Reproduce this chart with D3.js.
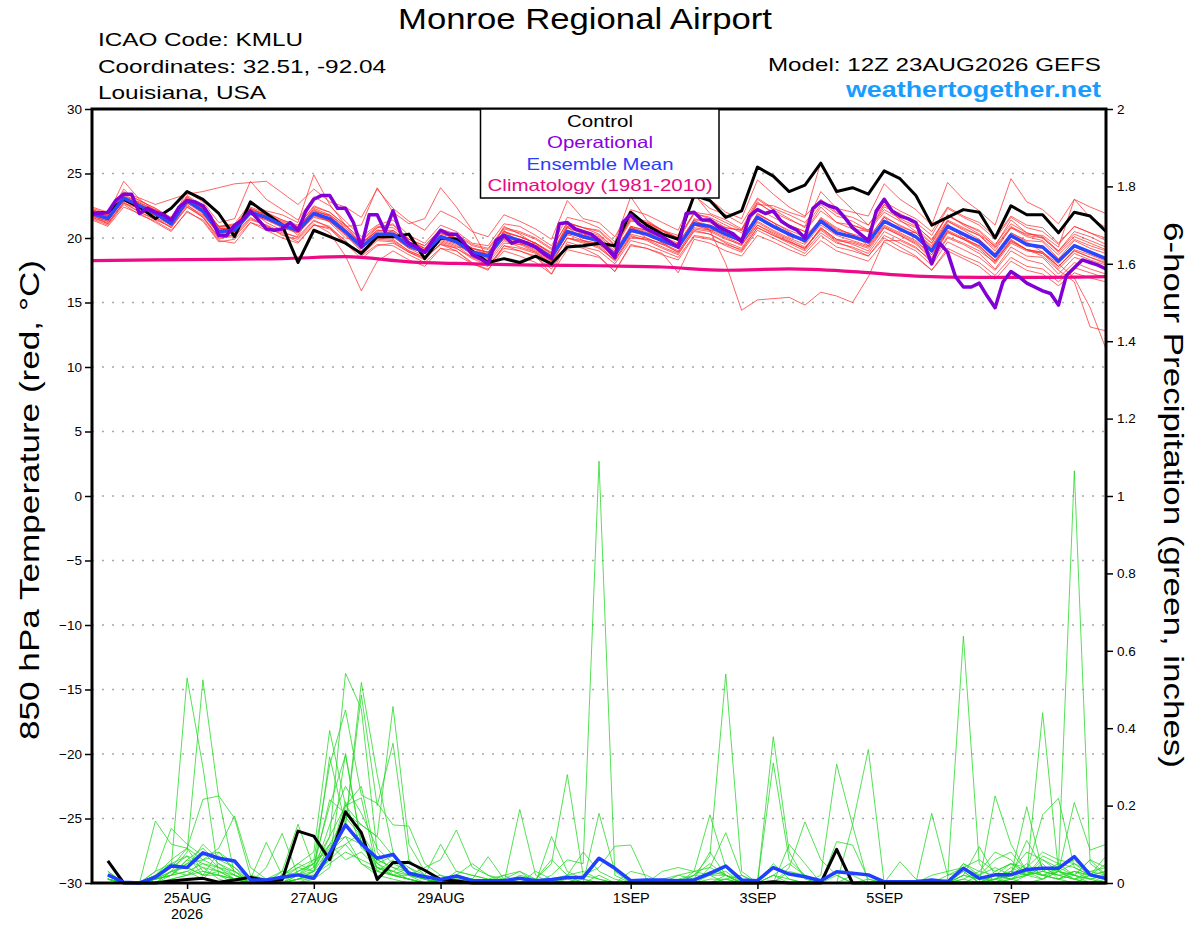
<!DOCTYPE html>
<html>
<head>
<meta charset="utf-8">
<script src="https://cdn.jsdelivr.net/npm/d3@7/dist/d3.min.js"></script>
<style>
  body { margin: 0; background: #fff; }
  svg { display: block; font-family: "Liberation Sans", Arial, sans-serif; }
</style>
</head>
<body>
<svg id="chart" width="1200" height="927"></svg>
<script>
// run start 12Z 23AUG2026, values every 6h (operational every 3h)
const runStart = Date.UTC(2026, 7, 23, 12);
const stepHours = d3.range(0, 385, 6);
const opHours = d3.range(0, 385, 3);
const precipHours = d3.range(6, 385, 6);
const climHours = d3.range(0, 385, 24);

const dayTicks = ["2026-08-25", "2026-08-27", "2026-08-29", "2026-09-01", "2026-09-03", "2026-09-05", "2026-09-07"];
const tempTicks = d3.range(-30, 31, 5);
const precipTicks = d3.range(0, 2.01, 0.2);

const legendLabels = ["Control", "Operational", "Ensemble Mean", "Climatology (1981-2010)"];

const controlTemp = [
  21.9, 22.0, 23.0, 22.4, 21.5, 22.3, 23.6, 23.0,
  21.9, 20.1, 22.8, 21.9, 21.0, 18.1, 20.6, 20.1,
  19.6, 18.8, 20.1, 20.1, 20.3, 18.4, 20.0, 19.9,
  19.0, 18.1, 18.4, 18.1, 18.6, 18.0, 19.3, 19.4,
  19.6, 19.4, 22.0, 21.0, 20.3, 19.9, 23.3, 22.9,
  21.6, 22.1, 25.5, 24.8, 23.6, 24.1, 25.8, 23.6,
  23.9, 23.4, 25.2, 24.6, 23.3, 21.0, 21.6, 22.2,
  22.0, 20.0, 22.5, 21.8, 21.8, 20.4, 22.0, 21.7,
  20.5
];

const meanTemp = [
  21.9, 21.5, 23.1, 22.5, 21.9, 21.1, 22.9, 22.1,
  20.5, 20.6, 22.0, 21.6, 21.0, 20.6, 21.9, 21.5,
  20.5, 19.3, 20.3, 20.3, 19.4, 18.9, 20.1, 19.7,
  18.9, 18.6, 20.2, 19.8, 19.3, 18.5, 20.5, 20.1,
  19.8, 18.7, 20.6, 20.3, 19.8, 19.3, 21.1, 20.9,
  20.3, 19.8, 21.6, 20.9, 20.3, 19.8, 21.3, 20.4,
  20.1, 19.7, 21.3, 20.7, 20.1, 19.0, 20.9, 20.3,
  19.7, 18.6, 20.2, 19.5, 19.3, 18.2, 19.4, 18.9,
  18.4
];

const operationalTemp = [
  21.9, 21.9, 22.0, 22.9, 23.4, 23.4, 21.9, 22.3,
  22.0, 21.8, 21.4, 22.4, 22.9, 22.8, 22.5, 21.6,
  20.2, 20.2, 21.0, 21.4, 22.1, 21.4, 20.7, 20.6,
  20.7, 21.2, 20.6, 22.1, 23.0, 23.3, 23.3, 22.3,
  22.3, 21.2, 19.3, 21.8, 21.8, 20.5, 22.1, 20.3,
  19.6, 19.3, 18.9, 19.8, 20.6, 20.3, 20.3, 19.6,
  18.7, 18.4, 18.0, 19.8, 20.2, 19.6, 19.8, 19.6,
  19.3, 18.8, 18.4, 21.1, 21.2, 20.7, 20.5, 20.3,
  19.8, 19.2, 18.5, 21.2, 21.8, 21.1, 20.7, 20.4,
  20.1, 19.7, 19.3, 21.9, 22.0, 21.4, 21.4, 20.9,
  20.6, 20.3, 19.7, 21.7, 22.2, 21.9, 22.1, 21.3,
  20.9, 20.6, 20.0, 22.3, 22.8, 22.5, 22.3, 21.6,
  20.8, 20.3, 19.8, 22.1, 23.0, 22.1, 21.7, 21.5,
  21.2, 19.6, 18.0, 19.6, 18.9, 17.0, 16.2, 16.2,
  16.5, 15.5, 14.6, 16.6, 17.4, 17.0, 16.5, 16.2,
  15.9, 15.7, 14.8, 17.1, 17.7, 18.3, 18.1, 17.9,
  17.6
];

const climTemp = [18.25, 18.3, 18.35, 18.4, 18.55, 18.15, 18.0, 17.9, 17.85, 17.75, 17.5, 17.6, 17.4, 17.05, 16.95, 16.95, 17.0];

const tempMembers = [
  [22.2,21.8,24.4,23.0,22.1,21.4,23.6,22.8, 21.2,21.5,24.4,23.0,22.2,21.4,23.2,22.5, 21.3,20.1,21.0,21.4,20.2,19.6,21.0,20.5, 19.6,19.4,21.1,20.9,20.2,19.4,21.6,21.3, 20.8,19.7,23.2,21.4,20.6,20.0,23.4,21.9, 21.4,20.7,23.0,22.2,21.5,20.8,22.6,21.7, 21.3,20.6,22.4,21.9,21.2,20.2,22.3,21.6, 21.0,19.9,21.6,20.8,20.5,19.5,20.9,20.4, 19.8],
  [21.5,21.0,22.6,21.8,21.3,20.6,22.0,21.4, 19.8,19.6,21.2,20.8,20.3,19.7,21.0,20.8, 19.8,18.6,19.5,19.4,18.7,18.1,19.2,19.0, 18.1,17.8,19.4,19.0,18.6,17.2,19.7,19.3, 19.0,18.0,19.8,19.5,19.0,18.5,20.2,20.0, 19.4,18.9,20.6,20.0,19.4,18.8,20.2,19.3, 19.0,18.6,20.2,19.6,19.0,17.9,19.7,19.1, 18.5,17.5,19.0,18.3,18.0,16.9,18.1,17.6, 17.2],
  [22.0,21.7,23.8,22.6,21.6,21.0,23.2,22.3, 20.9,20.9,22.6,22.1,21.8,21.2,24.9,22.6, 21.0,19.5,20.8,21.1,19.9,19.2,20.6,20.0, 19.2,18.7,20.9,20.3,19.5,18.6,21.1,20.8, 20.3,19.2,21.3,21.2,20.6,19.8,21.9,21.5, 20.8,20.6,22.8,21.9,21.0,20.5,22.4,21.2, 20.7,20.5,22.6,21.4,20.5,19.6,21.8,21.0, 20.3,19.4,21.4,20.4,20.0,19.0,20.5,20.1, 19.5],
  [21.7,21.3,22.9,22.2,21.6,20.8,22.6,21.6, 20.1,20.2,21.5,21.0,20.2,19.9,21.1,20.4, 18.6,15.9,18.2,19.0,18.3,17.8,19.2,18.7, 18.0,17.5,19.4,19.2,18.8,18.1,20.0,19.6, 19.4,18.3,20.1,19.9,19.6,18.9,20.7,20.5, 19.9,19.5,21.0,20.4,19.8,19.1,20.8,19.9, 19.5,19.0,20.8,20.2,19.5,18.4,20.4,19.9, 19.2,18.0,19.6,19.0,18.8,17.6,18.8,18.3, 17.9],
  [22.1,21.6,23.4,22.7,22.0,21.3,23.0,22.2, 20.7,20.8,22.3,21.8,21.1,20.7,22.3,21.8, 20.8,19.6,20.6,20.5,19.5,19.1,20.4,19.9, 19.0,18.8,20.4,20.1,19.6,18.7,20.8,20.3, 20.0,18.9,20.8,20.4,19.9,19.2,21.0,20.6, 18.0,14.4,15.2,15.3,15.4,14.8,15.8,15.5, 15.0,17.0,19.8,19.8,19.2,18.3,20.1,19.6, 19.0,18.1,19.8,19.1,18.8,17.8,19.0,18.5, 18.1],
  [21.8,21.4,23.0,22.4,21.8,21.2,22.8,22.0, 20.6,20.4,21.8,21.4,20.8,20.4,21.6,21.3, 20.3,19.0,20.0,20.1,19.2,18.6,19.9,19.5, 18.7,18.4,20.0,19.6,19.0,18.3,20.3,19.8, 19.5,18.5,20.3,20.0,19.5,18.9,20.8,20.6, 20.0,19.4,21.3,20.6,20.0,19.5,21.0,20.2, 19.8,19.4,21.0,20.4,19.8,18.7,20.6,20.0, 19.4,18.3,19.9,19.1,18.6,17.5,16.6,13.1, 12.8],
  [21.6,21.2,22.7,22.3,22.2,21.5,22.5,21.8, 20.3,20.9,22.2,21.2,20.6,20.9,22.2,21.2, 20.0,19.8,20.0,20.6,19.7,18.8,19.7,19.3, 19.2,18.9,19.9,19.5,19.6,18.8,20.2,20.4, 19.5,18.8,20.9,20.0,19.5,19.6,21.4,20.6, 20.6,19.6,21.9,21.2,20.1,19.9,21.5,20.6, 20.3,19.4,21.6,20.5,20.4,19.3,21.1,20.0, 19.9,18.8,20.4,19.7,18.9,18.0,16.9,14.6, 11.4],
  [22.3,21.9,23.6,22.9,22.3,21.5,23.3,22.5, 20.9,21.1,22.7,22.0,21.4,20.9,22.5,22.0, 21.0,19.9,20.9,21.0,19.9,19.4,20.7,20.3, 19.5,19.2,20.8,20.5,20.0,19.2,21.2,20.8, 20.5,19.4,21.4,21.2,20.6,20.0,22.0,21.8, 21.2,20.6,22.7,22.0,21.4,20.9,23.6,22.3, 22.0,21.7,24.2,23.0,22.2,21.0,24.3,23.0, 22.1,21.0,24.6,22.8,22.2,21.1,23.0,22.4, 21.9],
  [21.6,21.1,22.8,22.0,21.5,20.8,22.4,21.7, 20.0,20.1,21.4,21.0,20.5,20.0,21.3,20.9, 19.7,18.7,19.8,19.7,18.9,18.4,19.5,19.2, 18.4,17.9,19.2,19.0,18.5,17.6,19.5,19.2, 18.6,17.4,19.5,19.2,18.8,17.3,19.9,19.6, 19.0,18.6,20.2,19.7,19.1,18.6,19.8,19.0, 18.6,18.2,19.7,19.0,18.5,17.5,19.2,18.6, 18.1,17.1,18.5,17.8,17.6,16.6,17.7,17.3, 16.9],
  [22.4,22.0,23.5,23.1,22.6,23.0,23.4,23.6, 23.9,24.2,24.3,24.4,23.5,22.6,23.8,22.8, 22.4,21.6,23.8,22.3,21.3,20.6,22.1,21.5, 20.5,20.1,21.8,21.3,20.7,19.9,22.9,21.5, 21.2,20.1,22.2,21.8,21.2,20.6,23.3,22.3, 21.8,21.1,23.1,22.3,21.8,21.2,22.8,21.9, 21.6,21.0,22.8,22.1,21.5,20.5,22.4,21.7, 21.2,20.1,21.7,21.0,20.8,19.6,20.9,20.4, 20.0],
  [22.0,21.6,23.2,22.4,21.7,21.3,22.7,22.4, 20.8,20.3,22.1,21.9,21.2,20.2,22.0,21.8, 20.9,21.0,23.9,22.0,21.1,21.5,23.9,22.4, 20.6,18.3,20.6,19.6,19.1,18.2,20.9,19.8, 19.6,18.4,20.9,20.6,19.6,19.0,21.5,21.2, 20.4,19.9,21.9,21.2,20.5,19.6,21.6,20.8, 20.2,19.9,21.7,20.9,20.4,19.2,21.3,20.6, 19.9,18.7,20.4,19.8,19.7,18.4,19.8,19.2, 18.8],
  [21.4,20.9,22.4,21.9,21.2,20.5,22.1,21.3, 19.7,19.9,21.2,20.6,20.0,19.6,21.0,20.7, 19.6,18.4,19.4,19.6,18.9,18.3,19.6,19.2, 18.5,18.2,19.8,19.3,18.9,18.0,20.0,19.7, 19.2,18.3,20.2,19.8,19.2,18.7,20.6,20.3, 19.7,19.2,21.0,20.3,19.7,19.2,20.7,19.8, 19.6,19.2,20.8,20.2,19.6,18.5,20.5,19.9, 19.4,18.2,19.8,19.1,18.9,17.8,19.1,18.7, 18.2],
  [22.2,21.7,23.2,22.8,22.1,21.3,23.0,22.3, 20.8,20.7,22.3,21.7,21.2,20.8,22.2,21.7, 20.6,19.6,20.5,20.4,19.7,19.2,20.3,20.0, 19.2,18.9,20.5,20.1,19.6,18.9,20.9,20.6, 20.2,19.2,21.6,21.3,20.6,20.2,23.2,23.0, 22.0,21.5,24.5,23.4,22.4,21.7,23.0,22.0, 21.0,20.5,22.0,21.3,20.8,19.6,21.4,20.8, 20.2,19.2,20.8,20.1,19.8,18.7,19.9,19.4, 19.0],
  [21.8,21.1,22.7,22.0,21.4,20.9,22.4,21.6, 19.9,20.3,21.6,20.9,20.4,20.1,21.4,20.8, 19.5,18.9,19.9,19.8,19.0,18.5,19.8,19.4, 18.5,18.0,19.6,19.5,18.9,18.2,20.0,19.8, 19.3,18.2,20.0,19.9,19.3,18.8,20.5,20.3, 19.6,19.0,20.8,20.2,19.6,19.0,20.4,19.6, 19.3,18.8,20.5,19.9,19.3,18.1,20.0,19.5, 18.8,17.6,19.3,18.6,18.5,17.2,18.5,18.1, 17.6],
  [22.0,21.7,23.3,22.7,22.2,21.4,23.1,22.3, 20.7,20.8,22.2,21.8,21.3,20.8,22.1,21.7, 20.7,19.5,20.6,20.6,19.7,19.2,20.4,20.0, 19.2,18.9,20.5,20.1,19.6,18.8,20.8,20.4, 20.1,19.0,20.9,20.6,20.1,19.6,21.4,21.3, 20.8,20.6,22.6,22.5,22.0,21.6,25.9,23.4, 22.2,21.0,22.6,21.8,21.0,19.8,21.8,21.1, 20.5,19.3,20.9,20.2,20.0,18.9,20.1,19.6, 19.1],
  [21.9,21.4,22.9,22.3,21.9,21.0,22.7,21.9, 20.3,20.5,21.9,21.4,20.9,20.5,21.7,21.3, 20.3,19.2,20.1,20.2,19.3,18.8,20.0,19.6, 18.8,18.5,20.1,19.7,19.2,18.4,20.4,20.0, 19.7,18.6,20.5,20.2,19.7,19.2,21.0,20.8, 20.2,19.7,21.5,20.8,20.2,19.7,21.2,20.3, 20.0,19.6,21.2,20.6,20.0,18.9,20.8,20.2, 19.6,18.5,20.1,19.4,19.2,18.1,19.3,18.8, 18.3],
  [22.1,21.5,23.0,22.6,22.0,21.2,22.8,22.1, 20.6,20.7,22.0,21.5,21.0,20.6,21.9,21.4, 20.4,19.3,20.2,20.2,19.3,18.9,20.2,19.8, 19.0,18.7,20.1,19.8,19.3,18.6,20.6,20.2, 19.9,18.8,20.7,20.3,19.8,19.3,21.0,20.7, 20.1,19.5,21.2,20.5,19.9,19.3,20.6,19.7, 19.2,18.6,20.0,19.3,18.6,17.5,19.0,18.4, 17.8,16.8,18.2,17.5,17.2,16.3,17.3,16.9, 16.6],
  [21.7,21.3,23.0,22.5,21.8,21.0,22.7,22.2, 20.5,20.7,22.1,21.5,20.9,20.4,21.8,21.4, 20.5,19.4,20.4,20.1,19.2,18.9,20.2,19.6, 18.9,18.7,20.3,19.9,19.4,18.5,20.6,20.2, 19.9,18.8,20.8,20.5,20.0,19.4,21.3,21.0, 20.5,20.0,21.8,21.2,20.6,20.1,21.5,20.7, 20.3,20.0,21.6,21.0,20.4,19.4,21.3,20.7, 20.2,19.0,20.8,20.3,20.2,19.3,23.0,21.6, 20.8],
  [21.9,21.5,23.1,22.4,21.8,21.1,22.8,22.0, 20.4,20.5,21.9,21.5,20.9,20.5,21.8,21.3, 20.2,19.0,20.0,19.9,19.0,18.5,19.5,19.0, 18.0,17.6,19.0,18.6,18.1,17.2,19.1,18.8, 18.5,17.4,19.4,19.2,18.7,18.3,20.1,19.9, 19.5,19.1,20.8,20.2,19.7,19.2,20.8,19.9, 19.7,19.3,20.9,20.3,19.7,18.7,20.5,19.9, 19.3,18.2,19.7,19.1,18.9,17.8,19.0,18.5, 18.0],
  [22.1,21.8,23.5,22.9,22.3,21.6,23.2,22.4, 20.9,21.0,22.4,21.9,21.4,21.0,22.4,22.0, 21.0,19.8,20.8,20.8,19.9,19.4,20.6,20.2, 19.4,19.1,20.7,20.4,19.9,19.1,21.2,20.8, 20.6,19.5,21.5,21.1,20.5,20.0,21.9,21.6, 21.0,20.4,22.3,21.6,21.0,20.5,22.1,21.2, 21.0,20.6,22.2,21.5,20.9,19.9,21.7,21.1, 20.6,19.5,21.1,20.4,20.1,19.0,20.3,19.8, 19.3]
];

const controlPrecip = [
  0.057, 0, 0, 0, 0.005, 0.009, 0.012, 0.002,
  0.008, 0.015, 0.006, 0.008, 0.134, 0.121, 0.06, 0.184,
  0.13, 0.009, 0.053, 0.053, 0.033, 0.009, 0.005, 0,
  0, 0, 0, 0, 0, 0, 0, 0,
  0, 0, 0, 0, 0, 0, 0, 0,
  0, 0, 0.003, 0, 0, 0, 0.087, 0,
  0, 0, 0, 0, 0, 0, 0, 0,
  0, 0, 0, 0, 0, 0, 0, 0
];

const meanPrecip = [
  0.021, 0.002, 0, 0.015, 0.044, 0.040, 0.078, 0.064,
  0.057, 0.008, 0.008, 0.015, 0.021, 0.012, 0.077, 0.150,
  0.101, 0.064, 0.074, 0.025, 0.016, 0.009, 0.018, 0.006,
  0.006, 0.006, 0.012, 0.006, 0.009, 0.014, 0.014, 0.064,
  0.038, 0.006, 0.008, 0.008, 0.006, 0.008, 0.025, 0.044,
  0.008, 0.006, 0.040, 0.023, 0.016, 0.006, 0.029, 0.025,
  0.021, 0.003, 0.003, 0.003, 0.008, 0.003, 0.038, 0.012,
  0.021, 0.021, 0.035, 0.038, 0.038, 0.068, 0.021, 0.012
];

const precipMembers = [
  [0.02,0,0,0.02,0.04,0.53,0.30,0.02, 0.01,0,0,0,0.02,0.05,0.10,0.12, 0.05,0.02,0.01,0,0,0.01,0,0, 0,0,0,0,0,0,0,0.02, 0,0,0,0,0,0.01,0.02,0.04, 0.01,0,0.02,0.05,0.02,0,0,0, 0,0,0,0,0,0,0.01,0, 0,0.02,0.03,0.01,0.04,0.02,0.01,0],
  [0.01,0,0,0.01,0.03,0.08,0.525,0.22, 0.02,0,0,0,0.01,0.03,0.06,0.335, 0.10,0.04,0.02,0.01,0,0,0.02,0.01, 0,0,0,0.01,0,0,0,0, 0,0,0,0,0,0,0.04,0.02, 0,0,0.378,0.08,0.01,0,0,0, 0,0,0,0,0,0,0,0, 0.03,0.05,0.02,0.06,0.03,0.01,0.02,0.01],
  [0.03,0,0,0.16,0.10,0.09,0.06,0.04, 0.01,0,0,0,0.03,0.05,0.12,0.542, 0.45,0.08,0.02,0.04,0.01,0,0,0, 0,0,0,0,0.01,0,0,0, 0,0,0,0,0,0.02,0.05,0.02, 0,0,0.02,0,0,0,0,0, 0.01,0,0,0,0,0,0.05,0.02, 0,0.01,0.02,0.44,0.03,0.02,0,0.01],
  [0.01,0,0,0.03,0.141,0.10,0.07,0.08, 0.03,0,0.01,0,0,0.02,0.06,0.15, 0.518,0.28,0.08,0.02,0.01,0,0,0, 0,0,0,0,0,0,0,0.18, 0.03,0,0,0,0,0,0,0, 0,0,0,0.04,0.158,0.06,0.02,0, 0,0,0,0,0,0.02,0.04,0.02, 0.06,0.08,0.03,0.02,0.01,0.03,0.02,0.03],
  [0.02,0,0,0,0.02,0.06,0.09,0.05, 0.03,0.01,0,0.02,0.05,0.08,0.394,0.20, 0.15,0.12,0.456,0.10,0.03,0.01,0,0, 0,0,0,0,0,0,0,0, 0,0,0,0,0,0,0.02,0.03, 0,0,0,0,0,0,0.02,0, 0,0,0,0,0,0.01,0.638,0.05, 0,0.03,0.02,0.05,0.01,0.02,0.06,0.02],
  [0.01,0,0,0.01,0.05,0.07,0.02,0.03, 0.02,0,0,0.01,0.04,0.03,0.326,0.15, 0.486,0.20,0.361,0.06,0.02,0,0.01,0, 0,0,0,0,0,0,0,0, 0,0,0,0,0,0,0.01,0.01, 0,0,0,0,0,0.02,0.307,0.15, 0,0,0,0,0,0,0.03,0, 0.01,0.04,0.02,0.03,0.02,0.01,0,0.02],
  [0.02,0,0,0.03,0.05,0.04,0.10,0.06, 0.04,0,0,0.02,0.02,0.06,0.305,0.447, 0.227,0.206,0.15,0.147,0.05,0.02,0,0, 0,0,0.01,0,0,0,0,0, 0,0,0,0,0,0,0,0.01, 0,0,0,0,0,0,0,0.15, 0.345,0,0,0,0,0,0.02,0.094, 0.02,0.01,0.04,0.02,0.03,0.208,0.085,0.10],
  [0.01,0,0,0.02,0.06,0.09,0.216,0.225, 0.167,0.02,0.01,0.03,0.152,0.04,0.215,0.18, 0.15,0.12,0.07,0.04,0.02,0,0,0.01, 0,0,0,0,0,0.02,0,0, 0,0,0,0,0,0,0,0, 0,0,0,0,0,0,0,0, 0,0,0,0,0,0,0,0, 0.225,0.10,0.03,0.02,0.01,0,0.02,0.01],
  [0.01,0,0,0,0.01,0.02,0.03,0.02, 0,0,0,0,0.01,0.02,0.05,0.08, 0.06,0.04,0.03,0.02,0.01,0.02,0.01,0, 0,0,0,0,0.02,0.06,0.05,1.09, 0.02,0,0,0,0,0,0,0, 0,0,0,0,0,0,0,0, 0,0,0,0,0,0,0,0, 0.02,0.01,0,0.01,0.03,0.01,0,0],
  [0.02,0,0,0.01,0.02,0.03,0.01,0.05, 0.02,0,0,0,0,0.01,0.08,0.12, 0.10,0.03,0.02,0.01,0,0,0,0, 0,0,0.02,0.01,0.05,0.28,0.02,0.01, 0,0,0,0,0,0.02,0.07,0.54, 0.03,0,0.02,0.01,0,0,0,0, 0,0,0,0,0,0,0.02,0.01, 0.01,0.02,0.05,0.02,0.01,0.03,0.02,0.01],
  [0.01,0,0,0,0.03,0.02,0.04,0.01, 0,0,0,0,0.02,0.01,0.04,0.20, 0.25,0.05,0.03,0.01,0,0.01,0,0, 0,0,0.19,0.02,0,0,0,0, 0,0,0,0,0,0.03,0.176,0.04, 0,0,0,0,0,0,0,0, 0,0,0,0,0,0,0,0, 0.01,0.03,0.08,0.06,0.04,1.065,0.05,0.02],
  [0.01,0,0,0.02,0.05,0.04,0.02,0.08, 0.05,0.01,0,0.03,0.02,0.04,0.10,0.06, 0.08,0.04,0.02,0.02,0.04,0.06,0.137,0.04, 0.02,0.01,0,0,0,0,0,0, 0,0,0,0,0.02,0.03,0.04,0.13, 0.02,0,0.31,0.06,0.02,0,0,0.02, 0,0,0,0,0,0,0,0.02, 0.04,0.02,0.11,0.04,0.02,0.03,0.01,0.02],
  [0.02,0,0,0.01,0.02,0.06,0.04,0.03, 0.01,0,0,0.02,0.05,0.03,0.15,0.25, 0.18,0.09,0.05,0.03,0.01,0,0.03,0.02, 0.01,0.02,0.03,0,0.12,0.03,0.01,0, 0,0,0,0,0,0,0,0.02, 0.01,0,0,0,0,0,0,0, 0,0,0,0,0.18,0.02,0.03,0, 0.02,0.05,0.03,0.176,0.219,0.04,0.02,0.05],
  [0.01,0,0,0.02,0.04,0.07,0.05,0.04, 0.02,0.01,0.105,0.02,0.04,0.06,0.08,0.10, 0.13,0.06,0.04,0.02,0.02,0.10,0.03,0.02, 0.01,0,0,0,0,0,0.02,0.04, 0.095,0.098,0.01,0,0,0,0,0, 0,0,0,0,0,0,0,0, 0,0,0,0,0,0,0,0, 0.01,0.02,0.197,0.03,0.02,0.01,0.03,0.02],
  [0.02,0,0,0,0.03,0.05,0.08,0.04, 0.03,0,0.04,0.128,0.02,0.03,0.12,0.20, 0.22,0.03,0.06,0.02,0.01,0,0.02,0.01, 0.068,0.01,0.03,0.01,0.06,0.02,0.08,0.03, 0.01,0,0,0.03,0.04,0.03,0.02,0.02, 0,0,0,0,0,0,0,0, 0,0,0,0,0.02,0.03,0.04,0.06, 0.03,0.05,0.04,0.08,0.06,0.05,0.03,0.04],
  [0.01,0,0,0.01,0.04,0.09,0.03,0.02, 0.01,0,0,0.01,0.03,0.05,0.20,0.33, 0.10,0.05,0.07,0.02,0,0,0,0, 0,0,0,0,0,0,0,0, 0,0,0,0,0.01,0.02,0.02,0, 0,0,0,0.10,0.05,0,0.107,0.098, 0.01,0,0.055,0.01,0,0,0,0, 0,0.01,0.02,0.01,0.03,0.02,0.06,0.04],
  [0.01,0,0,0.01,0.02,0.05,0.06,0.09, 0.173,0.04,0.01,0.01,0.02,0.02,0.06,0.10, 0.05,0.03,0.02,0.01,0,0,0.02,0.05, 0.02,0,0,0.03,0.01,0.02,0.03,0.01, 0,0,0,0.01,0.02,0.01,0.03,0.02, 0,0,0,0,0,0,0,0, 0,0,0,0,0,0,0.04,0, 0.01,0,0.02,0.03,0.05,0.04,0.02,0.03],
  [0.02,0,0,0,0.01,0.02,0.06,0.07, 0.04,0.01,0,0,0.01,0.01,0.10,0.17, 0.12,0.04,0.03,0.06,0.02,0.01,0,0.01, 0,0.02,0,0,0,0,0.01,0, 0,0.03,0.02,0,0,0.01,0.08,0.02, 0,0,0,0.03,0.02,0,0,0, 0,0,0,0,0,0,0.05,0.03, 0.08,0.06,0.02,0.07,0.05,0.02,0.01,0.02],
  [0.01,0,0,0.01,0.03,0.04,0.02,0.02, 0.01,0,0,0,0.01,0.02,0.07,0.21, 0.09,0.06,0.04,0.03,0.01,0,0,0, 0,0,0,0,0,0,0,0, 0,0,0,0,0,0,0,0, 0,0,0,0,0,0,0,0, 0,0,0,0,0,0,0.01,0.03, 0.02,0.01,0.03,0.02,0.04,0.06,0.02,0.01],
  [0.03,0,0,0.01,0.02,0.03,0.05,0.03, 0.01,0,0,0,0.01,0.03,0.09,0.15, 0.11,0.05,0.02,0.01,0,0,0.01,0.01, 0,0,0,0,0,0.01,0,0, 0,0,0,0,0,0,0,0.01, 0.02,0,0.05,0.01,0,0,0,0, 0,0,0,0,0,0,0.02,0.01, 0.02,0.03,0.02,0.04,0.03,0.05,0.02,0.07]
];

const plotLeft = 92, plotRight = 1106, plotTop = 109, plotBottom = 883;

function hourToDate(h) {
  return new Date(runStart + h * 3600000);
}

const svg = d3.select("#chart");

const x = d3.scaleUtc()
  .domain([hourToDate(0), hourToDate(384)])
  .range([plotLeft, plotRight]);
const yTemp = d3.scaleLinear().domain([-30, 30]).range([plotBottom, plotTop]);
const yPrecip = d3.scaleLinear().domain([0, 2]).range([plotBottom, plotTop]);

// dotted grid on temperature ticks
svg.append("g")
  .selectAll("line")
  .data(tempTicks.filter(d => d > -30 && d < 30))
  .join("line")
  .attr("x1", plotLeft)
  .attr("x2", plotRight)
  .attr("y1", d => yTemp(d))
  .attr("y2", d => yTemp(d))
  .attr("stroke", "#a8a8a8")
  .attr("stroke-width", 1.4)
  .attr("stroke-dasharray", "2,8");

function drawSeries(values, hours, yScale, color, width, curve) {
  let line = d3.line()
    .x((d, i) => x(hourToDate(hours[i])))
    .y(d => yScale(d))
    .curve(curve || d3.curveLinear);
  return svg.append("path")
    .datum(values)
    .attr("d", line)
    .attr("fill", "none")
    .attr("stroke", color)
    .attr("stroke-width", width)
    .attr("stroke-linejoin", "round");
}

// the original font is wide, so glyphs get stretched to its width
function putText(xPos, yPos, str, size, width, anchor) {
  return svg.append("text")
    .attr("x", xPos)
    .attr("y", yPos)
    .attr("font-size", size)
    .attr("text-anchor", anchor || "start")
    .attr("textLength", width)
    .attr("lengthAdjust", "spacingAndGlyphs")
    .text(str);
}

tempMembers.forEach(m => drawSeries(m, stepHours, yTemp, "#ff2a2a", 0.9).attr("opacity", 0.8));
precipMembers.forEach(m => drawSeries(m, precipHours, yPrecip, "#1fd81f", 0.9).attr("opacity", 0.85));

drawSeries(climTemp, climHours, yTemp, "#ee0a86", 3.2, d3.curveMonotoneX);
drawSeries(controlPrecip, precipHours, yPrecip, "#000000", 3);
drawSeries(meanPrecip, precipHours, yPrecip, "#2040ff", 3.5);
drawSeries(controlTemp, stepHours, yTemp, "#000000", 3);
drawSeries(meanTemp, stepHours, yTemp, "#2a46ff", 3.5);
drawSeries(operationalTemp, opHours, yTemp, "#8200d6", 3.5);

// axes
const axisFont = "Liberation Sans, Arial, sans-serif";

let gLeft = svg.append("g")
  .attr("transform", `translate(${plotLeft},0)`)
  .call(d3.axisLeft(yTemp).tickValues(tempTicks).tickSize(7).tickPadding(3));
let gRight = svg.append("g")
  .attr("transform", `translate(${plotRight},0)`)
  .call(d3.axisRight(yPrecip).tickValues(precipTicks).tickSize(7).tickPadding(4).tickFormat(d3.format("~g")));
let gBottom = svg.append("g")
  .attr("transform", `translate(0,${plotBottom})`)
  .call(d3.axisBottom(x)
    .tickValues(dayTicks.map(d => new Date(d + "T00:00:00Z")))
    .tickSize(6).tickPadding(4)
    .tickFormat(d => d3.utcFormat("%-d%b")(d).toUpperCase()));

[gLeft, gRight, gBottom].forEach(g => {
  g.select(".domain").remove();
  g.selectAll("text").attr("font-family", axisFont).attr("fill", "#000");
  g.selectAll("line").attr("stroke", "#000").attr("stroke-width", 1.5);
});
gLeft.selectAll("text").attr("font-size", 13.5);
gRight.selectAll("text").attr("font-size", 13.5);
gBottom.selectAll("text").attr("font-size", 14.5);

svg.append("text")
  .attr("x", x(new Date(dayTicks[0] + "T00:00:00Z")))
  .attr("y", 919)
  .attr("text-anchor", "middle")
  .attr("font-size", 14.5)
  .text("2026");

// frame
svg.append("rect")
  .attr("x", plotLeft)
  .attr("y", plotTop)
  .attr("width", plotRight - plotLeft)
  .attr("height", plotBottom - plotTop)
  .attr("fill", "none")
  .attr("stroke", "#000")
  .attr("stroke-width", 3);

// legend
const legendColors = ["#000000", "#8a00e0", "#2b3cff", "#e8087f"];
const legendWidths = [66, 106, 147, 225];
svg.append("rect")
  .attr("x", 480.5)
  .attr("y", plotTop)
  .attr("width", 238.5)
  .attr("height", 89)
  .attr("fill", "#fff")
  .attr("stroke", "#000")
  .attr("stroke-width", 1.5);
legendLabels.forEach((d, i) => {
  putText(600, 127 + i * 21.3, d, 16.5, legendWidths[i], "middle").attr("fill", legendColors[i]);
});

// titles
putText(585, 29, "Monroe Regional Airport", 30, 374, "middle");

const infoLines = ["ICAO Code: KMLU", "Coordinates: 32.51, -92.04", "Louisiana, USA"];
const infoWidths = [205, 288, 168];
infoLines.forEach((d, i) => putText(98, 46 + i * 26.5, d, 19, infoWidths[i]));

putText(1101, 71, "Model: 12Z 23AUG2026 GEFS", 19, 333, "end");
putText(1101, 97, "weathertogether.net", 21.5, 255, "end")
  .attr("font-weight", "bold")
  .attr("fill", "#1a9cff");

putText(0, 0, "850 hPa Temperature (red, °C)", 28, 480, "middle")
  .attr("transform", "translate(39,500) rotate(-90)");
putText(0, 0, "6-hour Precipitation (green, inches)", 28, 546, "middle")
  .attr("transform", "translate(1164,495) rotate(90)");
</script>
</body>
</html>
